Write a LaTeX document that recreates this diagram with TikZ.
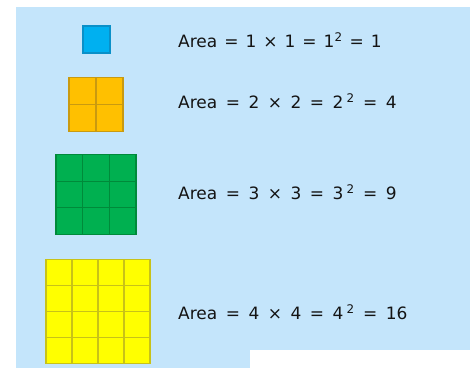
\documentclass[tikz,border=0pt]{standalone}
\usepackage{fontspec}
\setmainfont{DejaVu Sans}
\usetikzlibrary{calc}
\definecolor{bgblue}{HTML}{C4E5FB}
\definecolor{sqblue}{HTML}{00B0F0}
\definecolor{sqblueD}{HTML}{0A90C8}
\definecolor{sqorange}{HTML}{FFC000}
\definecolor{sqorangeD}{HTML}{C99A10}
\definecolor{sqgreen}{HTML}{00B050}
\definecolor{sqgreenD}{HTML}{008A3A}
\definecolor{sqyellow}{HTML}{FFFF00}
\definecolor{sqyellowD}{HTML}{C8C218}
\definecolor{txt}{HTML}{141414}
\newcommand\arealine[6]{Area\hspace{#5}=\hspace{#5}#1\hspace{#5}×\hspace{#5}#2\hspace{#5}=\hspace{#5}#3\hspace{#6}\textsuperscript{2}\hspace{#5}=\hspace{#5}#4}
\tikzset{
  sqbox/.style={draw=#1D, fill=#1, line width=1.2pt, inner sep=0pt, outer sep=0pt},
  cellline/.style={draw=#1D, line width=1.2pt},
  areatext/.style={anchor=west, inner sep=0pt, text=txt, font=\fontsize{17}{19}\selectfont}
}
\begin{document}
\begin{tikzpicture}[x=1pt,y=-1pt]
\useasboundingbox (0,0) rectangle (470,368);
\fill[white] (0,0) rectangle (470,368);
\fill[bgblue] (16,7) rectangle (470,368);
\fill[white] (250,350) rectangle (470,368);
% squares
\node[sqbox=sqblue, minimum size=27pt] (s1) at (96.5,39.5) {};
\node[sqbox=sqorange, minimum size=54pt] (s2) at (96,104.5) {};
\node[sqbox=sqgreen, minimum size=80pt] (s3) at (96,194.5) {};
\node[sqbox=sqyellow, minimum size=104pt] (s4) at (98,311.5) {};
% grid lines
\foreach \n/\k/\c in {s2/2/sqorange, s3/3/sqgreen, s4/4/sqyellow}{
  \foreach \i in {1,...,\numexpr\k-1\relax}{
    \draw[cellline=\c] ($(\n.north west)!\i/\k!(\n.north east)$) -- ($(\n.south west)!\i/\k!(\n.south east)$);
    \draw[cellline=\c] ($(\n.north west)!\i/\k!(\n.south west)$) -- ($(\n.north east)!\i/\k!(\n.south east)$);
  }
}
% texts
\node[areatext] (t1) at (178,40) {\arealine{1}{1}{1}{1}{7pt}{0pt}};
\node[areatext] (t2) at (178,101) {\arealine{2}{2}{2}{4}{8.5pt}{3pt}};
\node[areatext] (t3) at (178,192) {\arealine{3}{3}{3}{9}{8.5pt}{3pt}};
\node[areatext] (t4) at (178,312) {\arealine{4}{4}{4}{16}{8.5pt}{3pt}};
\end{tikzpicture}
\end{document}
